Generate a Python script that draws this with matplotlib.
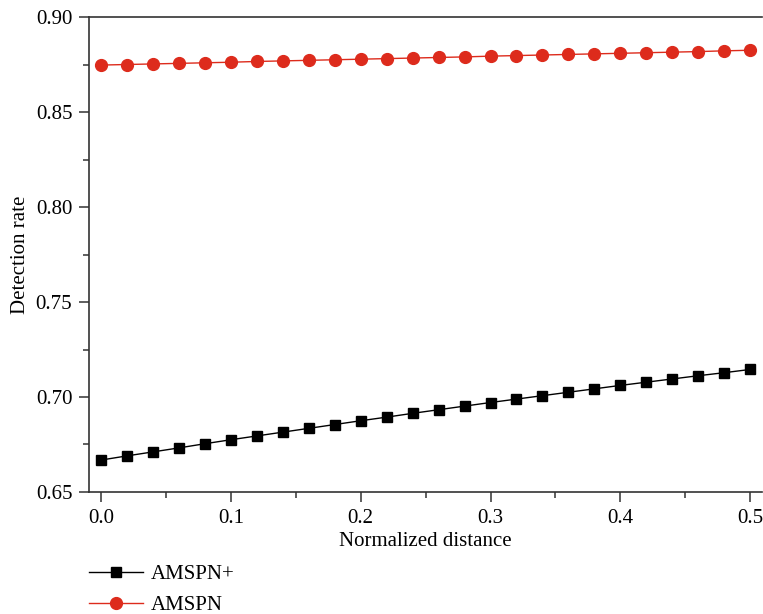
import matplotlib
matplotlib.use("Agg")
import matplotlib.pyplot as plt
from matplotlib.ticker import MultipleLocator

# normalized distance, step 0.02
distance = [round(i * 0.02, 2) for i in range(26)]

amspn_plus = [0.6668, 0.6690, 0.6711, 0.6732, 0.6754, 0.6775, 0.6795, 0.6815,
              0.6835, 0.6855, 0.6875, 0.6894, 0.6914, 0.6933, 0.6952, 0.6971,
              0.6989, 0.7007, 0.7025, 0.7043, 0.7061, 0.7078, 0.7095, 0.7112,
              0.7128, 0.7145]
amspn = [0.8747, 0.8750, 0.8753, 0.8756, 0.8759, 0.8762, 0.8766, 0.8769,
         0.8772, 0.8775, 0.8778, 0.8781, 0.8784, 0.8787, 0.8790, 0.8794,
         0.8797, 0.8800, 0.8803, 0.8806, 0.8809, 0.8812, 0.8815, 0.8818,
         0.8822, 0.8825]

plt.rcParams['font.family'] = ['Liberation Serif', 'DejaVu Serif']

fig = plt.figure(figsize=(7.63, 6.14), dpi=100)
ax = fig.add_axes([0.1166, 0.1987, 0.882, 0.7736])

l1, = ax.plot(distance, amspn_plus, color='black', lw=1, marker='s', ms=7.5,
              label='AMSPN+')
l2, = ax.plot(distance, amspn, color='#dd2b1c', lw=1, marker='o', ms=8.5,
              label='AMSPN')

ax.set_xlim(-0.0092, 0.509)
ax.set_ylim(0.65, 0.90)
ax.xaxis.set_major_locator(MultipleLocator(0.1))
ax.xaxis.set_minor_locator(MultipleLocator(0.05))
ax.yaxis.set_major_locator(MultipleLocator(0.05))
ax.yaxis.set_minor_locator(MultipleLocator(0.025))
ax.xaxis.set_major_formatter(plt.FuncFormatter(lambda v, p: f"{v:.1f}"))
ax.yaxis.set_major_formatter(plt.FuncFormatter(lambda v, p: f"{v:.2f}"))

ax.spines['right'].set_visible(False)
for s in ['left', 'bottom', 'top']:
    ax.spines[s].set_linewidth(1.2)
    ax.spines[s].set_color('#333333')
ax.tick_params(which='major', direction='out', length=7, width=1.1,
               labelsize=15, color='#333333', pad=5)
ax.tick_params(which='minor', direction='out', length=4, width=1.1,
               color='#333333')

ax.set_xlabel('Normalized distance', fontsize=15, labelpad=3)
ax.set_ylabel('Detection rate', fontsize=15, labelpad=4)

fig.legend(handles=[l1, l2], loc='lower left', bbox_to_anchor=(0.116, -0.002),
           frameon=False, fontsize=15, handlelength=2.6, labelspacing=0.55,
           handletextpad=0.4, borderpad=0.0, borderaxespad=0.0)

fig.savefig('out.png', dpi=100)
